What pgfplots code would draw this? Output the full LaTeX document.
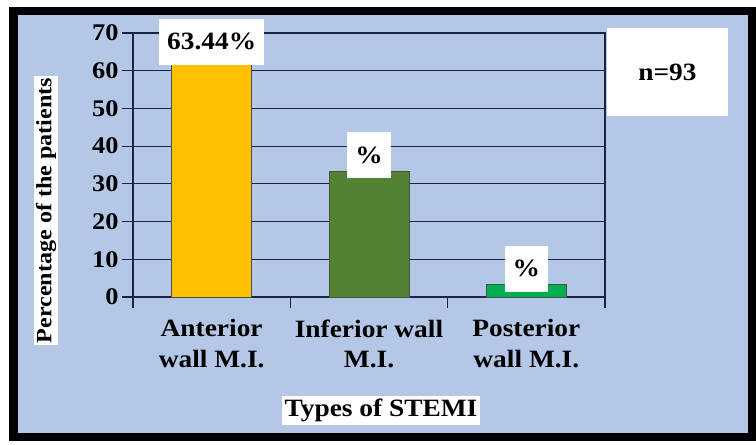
\documentclass[border=0pt]{standalone}
\usepackage{pgfplots}
\pgfplotsset{compat=1.18}
\usepackage{fontspec}
\setmainfont{Liberation Serif}[FakeStretch=1.1]
\definecolor{bgblue}{RGB}{180,199,231}
\definecolor{gridnavy}{RGB}{25,35,70}
\definecolor{gold}{RGB}{255,192,0}
\definecolor{darkgreen}{RGB}{84,130,53}
\definecolor{brightgreen}{RGB}{0,176,80}
\newcommand{\bigfont}{\bfseries\fontsize{25}{31}\selectfont}
\newcommand{\tickfont}{\bfseries\fontsize{24}{28}\selectfont}

\begin{document}
\begin{tikzpicture}
\useasboundingbox (-133bp,-148bp) rectangle (623bp,297bp);
% frame and background
\fill[black] (-124bp,-144bp) rectangle (623bp,290bp);
\fill[bgblue] (-115bp,-136bp) rectangle (615bp,282bp);
\begin{axis}[
    at={(0,0)}, anchor=south west, scale only axis,
    width=472bp, height=264bp,
    xmin=0.5, xmax=3.5, ymin=0, ymax=70,
    ybar, bar width=80bp, bar shift=0pt,
    clip=false,
    axis line style={draw=gridnavy, line width=1.2bp},
    ytick={0,10,...,70},
    ymajorgrids, grid style={gridnavy, line width=1.2bp},
    xtick={0.5,1.5,2.5,3.5}, xticklabels={},
    extra x ticks={1,2,3},
    extra x tick labels={Anterior\\wall M.I., Inferior wall\\M.I., Posterior\\wall M.I.},
    extra x tick style={major tick length=0pt, grid=none,
        xticklabel style={align=center, font=\bigfont, yshift=-19bp}},
    tick align=outside, tick pos=left,
    major tick length=11bp,
    tick style={draw=gridnavy, line width=1.2bp},
    /pgf/number format/assume math mode=true,
    yticklabel style={font=\tickfont},
    nodes near coords,
    point meta=explicit symbolic,
    nodes near coords style={anchor=center, yshift=16bp, fill=white,
        inner xsep=8bp, minimum height=46bp, font=\bigfont, text=black},
]
\addplot[fill=gold, draw=black!70, line width=0.8bp] coordinates {(1,63.44) [63.44\%]};
\addplot[fill=darkgreen, draw=black!70, line width=0.8bp] coordinates {(2,33.33) [\%]};
\addplot[fill=brightgreen, draw=black!70, line width=0.8bp] coordinates {(3,3.23) [\%]};
\end{axis}
\node[fill=white, minimum width=121bp, minimum height=88bp, font=\bigfont] at (534.5bp,225bp) {n=93};
\node[fill=white, rotate=90, inner sep=2bp, font=\bfseries\fontsize{22}{26}\selectfont] at (-87bp,86.5bp) {Percentage of the patients};
\node[fill=white, inner sep=3bp, font=\bigfont] at (248bp,-113.5bp) {Types of STEMI};
\end{tikzpicture}
\end{document}
